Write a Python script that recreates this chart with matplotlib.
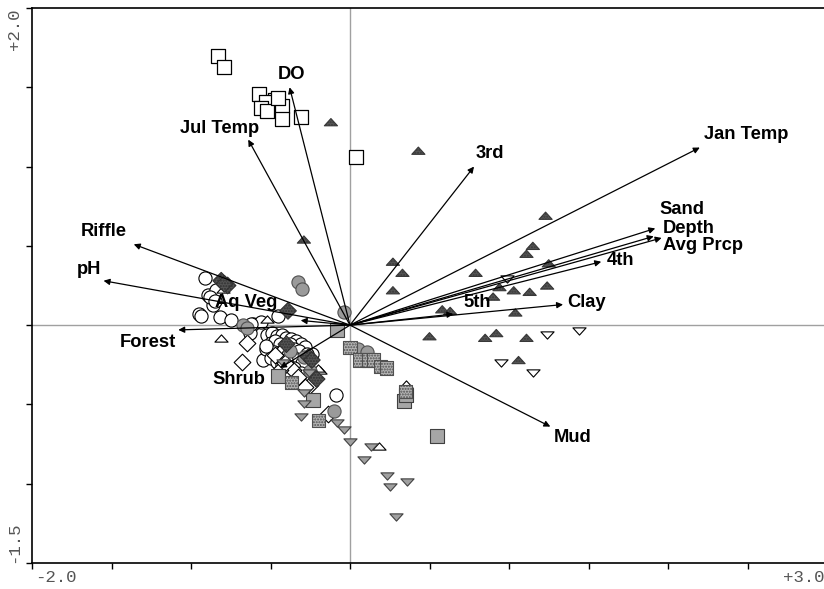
import matplotlib
matplotlib.use("Agg")
import matplotlib.pyplot as plt
from matplotlib.path import Path
import numpy as np

# ---------------- data ----------------
open_sq_x = [-0.83, -0.79, -0.57, -0.47, -0.53, -0.56, -0.52, -0.43, -0.43, -0.31, 0.04, -0.45]
open_sq_y = [1.70, 1.63, 1.46, 1.42, 1.41, 1.37, 1.35, 1.38, 1.30, 1.31, 1.06, 1.43]

dark_tri_x = [-0.12, 0.43, -0.29, 0.27, 0.33, 0.27, 1.23, 1.15, 1.11, 1.25, 0.79, 0.94, 1.03,
              1.13, 1.24, 0.90, 0.58, 0.63, 1.04, 0.50, 0.85, 0.92, 1.11, 1.06]
dark_tri_y = [1.28, 1.10, 0.54, 0.40, 0.33, 0.22, 0.69, 0.50, 0.45, 0.39, 0.33, 0.24, 0.22,
              0.21, 0.25, 0.18, 0.10, 0.09, 0.08, -0.07, -0.08, -0.05, -0.08, -0.22]

open_dtri_x = [1.24, 1.44, 0.95, 1.15, 0.99]
open_dtri_y = [-0.06, -0.04, -0.24, -0.30, 0.29]

gray_dtri_x = [-0.29, -0.29, -0.31, -0.08, -0.04, 0.00, 0.13, 0.09, 0.23, 0.25, 0.36, 0.29, -0.42, -0.26]
gray_dtri_y = [-0.43, -0.50, -0.58, -0.62, -0.66, -0.74, -0.77, -0.85, -0.95, -1.02, -0.99, -1.21, -0.24, -0.30]

open_tri_x = [0.35, 0.18, -0.81, -0.52, -0.19, -0.20, -0.80]
open_tri_y = [-0.37, -0.76, -0.08, 0.04, -0.28, -0.27, 0.23]

gray_sq_x = [-0.08, 0.34, 0.35, 0.55, -0.23, -0.45]
gray_sq_y = [-0.03, -0.48, -0.44, -0.70, -0.47, -0.32]

hatch_sq_x = [0.00, 0.06, 0.12, 0.15, 0.19, 0.23, -0.20, -0.37, 0.35]
hatch_sq_y = [-0.14, -0.22, -0.22, -0.22, -0.26, -0.27, -0.60, -0.36, -0.42]

gray_circ_x = [-0.33, -0.30, -0.04, -0.67, -0.65, -0.38, -0.29, -0.25, -0.10, 0.05, 0.11]
gray_circ_y = [0.27, 0.23, 0.08, 0.00, -0.02, -0.16, -0.20, -0.29, -0.54, -0.15, -0.17]

open_circ_x = [-0.91, -0.89, -0.84, -0.95, -0.86, -0.82, -0.75, -0.61, -0.63, -0.45, -0.55,
               -0.09, -0.24, -0.88, -0.85, -0.94, -0.56, -0.62,
               -0.52, -0.49, -0.46, -0.43, -0.40, -0.37, -0.34, -0.31, -0.28,
               -0.50, -0.47, -0.44, -0.41, -0.38, -0.35, -0.32, -0.27,
               -0.53, -0.48, -0.45, -0.42, -0.39, -0.36, -0.33, -0.30,
               -0.50, -0.46, -0.43, -0.40, -0.35, -0.31, -0.53]
open_circ_y = [0.30, 0.19, 0.22, 0.07, 0.13, 0.05, 0.03, 0.01, -0.05, 0.06, -0.22,
               -0.44, -0.18, 0.18, 0.15, 0.06, 0.02, 0.01,
               -0.06, -0.05, -0.07, -0.06, -0.08, -0.09, -0.10, -0.12, -0.14,
               -0.11, -0.10, -0.12, -0.13, -0.12, -0.15, -0.16, -0.18,
               -0.15, -0.17, -0.18, -0.16, -0.19, -0.20, -0.22, -0.24,
               -0.21, -0.23, -0.25, -0.22, -0.27, -0.30, -0.13]

open_dia_x = [-0.65, -0.68, -0.25, -0.14, -0.36, -0.44, -0.41, -0.28, -0.47, -0.33]
open_dia_y = [-0.11, -0.23, -0.38, -0.56, -0.28, -0.28, -0.24, -0.39, -0.19, -0.33]

dark_dia_x = [-0.81, -0.77, -0.79, -0.39, -0.26, -0.21, -0.40, -0.24]
dark_dia_y = [0.28, 0.25, 0.26, 0.09, -0.20, -0.34, -0.12, -0.22]

arrow_names = ["DO", "Jul Temp", "Riffle", "pH", "Aq Veg", "Forest", "Shrub", "3rd",
               "Jan Temp", "Sand", "Depth", "Avg Prcp", "4th", "Clay", "5th", "Mud"]
arrow_x = [-0.38, -0.64, -1.36, -1.55, -0.31, -1.08, -0.44, 0.78,
           2.20, 1.92, 1.91, 1.96, 1.58, 1.34, 0.65, 1.26]
arrow_y = [1.50, 1.17, 0.51, 0.28, 0.03, -0.03, -0.27, 1.00,
           1.12, 0.61, 0.56, 0.55, 0.40, 0.13, 0.07, -0.64]
label_x = [-0.37, -0.82, -1.55, -1.64, -0.65, -1.27, -0.70, 0.88,
           2.49, 2.09, 2.13, 2.22, 1.70, 1.49, 0.80, 1.40]
label_y = [1.58, 1.24, 0.59, 0.35, 0.14, -0.11, -0.34, 1.08,
           1.20, 0.73, 0.61, 0.50, 0.41, 0.14, 0.14, -0.71]

x_limits = [-2.0, 3.0]
y_limits = [-1.5, 2.0]
x_tick_text = ["-2.0", "+3.0"]
y_tick_text = ["+2.0", "-1.5"]

# ---------------- drawing ----------------
W, H = 824, 589
fig = plt.figure(figsize=(W / 100, H / 100), dpi=100)
ax = fig.add_axes([32 / W, (H - 563) / H, 795 / W, 555 / H])
ax.set_xlim(x_limits)
ax.set_ylim(y_limits)

for s in ax.spines.values():
    s.set_linewidth(1.2)
    s.set_color("black")

ax.set_xticks(np.arange(-2.0, 3.01, 0.5))
ax.set_yticks(np.arange(-1.5, 2.01, 0.5))
ax.tick_params(direction="out", length=4, width=1, labelbottom=False, labelleft=False, color="black")

ax.axhline(0, color="#a0a0a0", lw=1, zorder=1)
ax.axvline(0, color="#a0a0a0", lw=1, zorder=1)

# flattened triangle markers
up_tri = Path([(-1, -0.55), (1, -0.55), (0, 0.55), (-1, -0.55)], closed=True)
dn_tri = Path([(-1, 0.55), (1, 0.55), (0, -0.55), (-1, 0.55)], closed=True)

S = 90
ax.scatter(open_circ_x, open_circ_y, s=S, marker="o", facecolor="white", edgecolor="black", lw=0.8, zorder=3)
ax.scatter(open_sq_x, open_sq_y, s=S, marker="s", facecolor="white", edgecolor="black", lw=0.9, zorder=3)
ax.scatter(open_dia_x, open_dia_y, s=S * 0.8, marker="D", facecolor="white", edgecolor="black", lw=0.8, zorder=3)
ax.scatter(open_tri_x, open_tri_y, s=S, marker=up_tri, facecolor="white", edgecolor="black", lw=0.8, zorder=3)
ax.scatter(open_dtri_x, open_dtri_y, s=S, marker=dn_tri, facecolor="white", edgecolor="black", lw=0.8, zorder=3)
ax.scatter(gray_circ_x, gray_circ_y, s=S, marker="o", facecolor="#9a9a9a", edgecolor="#505050", lw=0.8, zorder=4)
ax.scatter(gray_sq_x, gray_sq_y, s=S, marker="s", facecolor="#a6a6a6", edgecolor="#404040", lw=0.8, zorder=4)
ax.scatter(hatch_sq_x, hatch_sq_y, s=S, marker="s", facecolor="#b4b4b4", edgecolor="#505050", lw=0.8,
           hatch="......", zorder=4)
ax.scatter(gray_dtri_x, gray_dtri_y, s=S, marker=dn_tri, facecolor="#a0a0a0", edgecolor="#404040", lw=0.8, zorder=4)
ax.scatter(dark_tri_x, dark_tri_y, s=S, marker=up_tri, facecolor="#555555", edgecolor="#383838", lw=0.8,
           hatch="......", zorder=4)
ax.scatter(dark_dia_x, dark_dia_y, s=S * 0.8, marker="D", facecolor="#555555", edgecolor="#303030", lw=0.8,
           hatch="......", zorder=4)

for name, ex, ey, lx, ly in zip(arrow_names, arrow_x, arrow_y, label_x, label_y):
    ax.annotate("", xy=(ex, ey), xytext=(0, 0),
                arrowprops=dict(arrowstyle="-|>", lw=0.9, color="black", mutation_scale=9,
                                shrinkA=0, shrinkB=0), zorder=5)
    ax.text(lx, ly, name, ha="center", va="center", fontsize=13.2, fontweight="bold",
            family="Liberation Sans", color="black", zorder=6)

mono = dict(family="Liberation Mono", color="#555555", fontsize=12.5)
fig.text(35 / W, 1 - 577 / H, x_tick_text[0], ha="left", va="center", **mono)
fig.text(824 / W, 1 - 577 / H, x_tick_text[1], ha="right", va="center", **mono)
fig.text(14 / W, 1 - 8 / H, y_tick_text[0], ha="center", va="top", rotation=90, **mono)
fig.text(14 / W, 1 - 563 / H, y_tick_text[1], ha="center", va="bottom", rotation=90, **mono)

fig.savefig("out.png", dpi=100)
